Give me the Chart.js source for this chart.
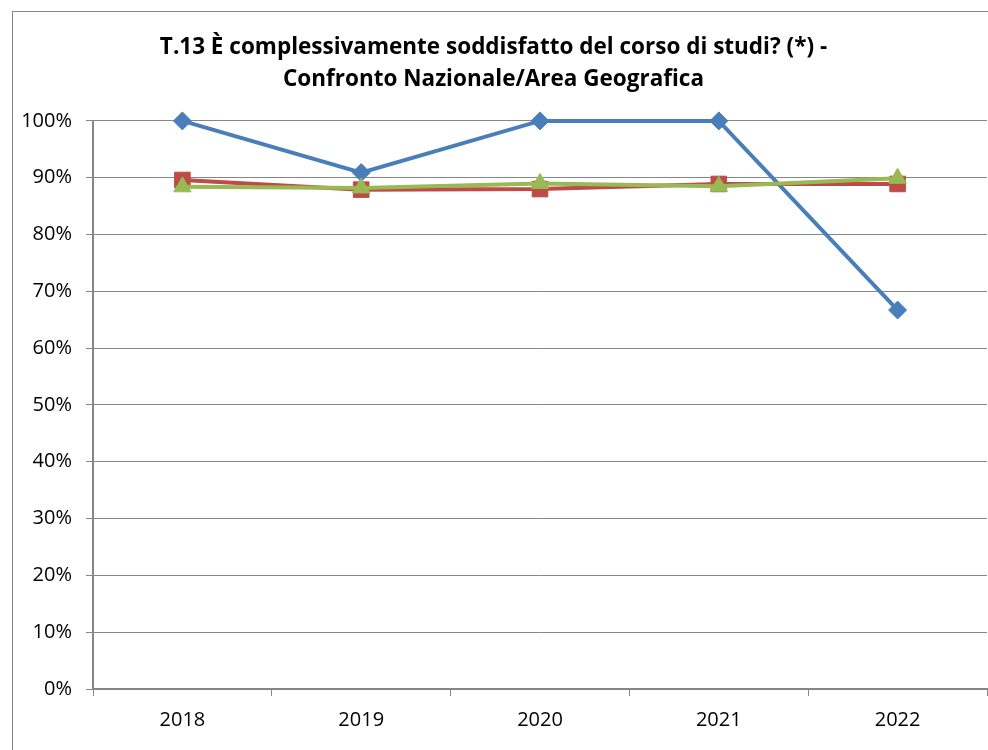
<!DOCTYPE html>
<html>
<head>
<meta charset="utf-8">
<script src="https://cdn.jsdelivr.net/npm/chart.js@4/dist/chart.umd.min.js"></script>
<style>
    html, body { margin: 0; background: #fff; overflow: hidden; width: 988px; height: 750px; }
    #cornice { position: absolute; left: 12px; top: 11px; width: 990px; height: 760px; border: 1px solid #878787; }
    #graficoT13 { position: absolute; left: 0; top: 0; }
</style>
</head>
<body>
<div id="cornice"></div>
<canvas id="graficoT13" width="988" height="750"></canvas>
<script>
// dati
const anni = ['2018', '2019', '2020', '2021', '2022'];
const corsoDiStudi = [100, 90.9, 100, 100, 66.7];
const areaGeografica = [89.6, 87.9, 88.0, 88.9, 88.9];
const nazionale = [88.4, 88.2, 89.0, 88.5, 89.9];
const titolo = ['T.13 È complessivamente soddisfatto del corso di studi? (*) -', 'Confronto Nazionale/Area Geografica'];

const grigio = '#868686';
const font = "'Open Sans', sans-serif";

new Chart(document.getElementById('graficoT13').getContext('2d'), {
    type: 'line',
    data: {
        labels: anni,
        datasets: [
            {
                label: 'Corso di studi',
                data: corsoDiStudi,
                borderColor: '#4A7EBB',
                backgroundColor: '#4A7EBB',
                borderWidth: 4,
                pointStyle: 'rectRot',
                pointRadius: 9,
                pointBorderWidth: 1,
                clip: false,
                order: 3
            },
            {
                label: 'Area geografica',
                data: areaGeografica,
                borderColor: '#BE4B48',
                backgroundColor: '#BE4B48',
                borderWidth: 4,
                pointStyle: 'rect',
                pointRadius: 11,
                pointBorderWidth: 1,
                clip: false,
                order: 2
            },
            {
                label: 'Nazionale',
                data: nazionale,
                borderColor: '#98B954',
                backgroundColor: '#98B954',
                borderWidth: 4,
                pointStyle: 'triangle',
                pointRadius: 10,
                pointBorderWidth: 1,
                clip: false,
                order: 1
            }
        ]
    },
    options: {
        responsive: false,
        animation: false,
        layout: { autoPadding: false, padding: { top: 0, right: 1, left: 0, bottom: 0 } },
        elements: { line: { tension: 0 } },
        scales: {
            x: {
                offset: true,
                grid: { offset: true, drawOnChartArea: false, drawTicks: true, tickLength: 7, color: grigio },
                border: { color: grigio, width: 2 },
                ticks: { color: '#000', padding: 12, font: { family: font, size: 20 } },
                afterFit: (scala) => { scala.height = 61; }
            },
            y: {
                min: 0,
                max: 100,
                grid: { color: grigio, lineWidth: 1, tickLength: 7 },
                border: { color: grigio, width: 2 },
                ticks: {
                    stepSize: 10,
                    color: '#000',
                    padding: 14,
                    font: { family: font, size: 20 },
                    callback: (valore) => valore + '%'
                },
                afterFit: (scala) => { scala.width = 93; }
            }
        },
        plugins: {
            legend: { display: false },
            tooltip: { enabled: false },
            title: {
                display: true,
                text: titolo,
                color: '#000',
                font: { family: font, size: 22.5, weight: 'bold', lineHeight: 1.42 },
                padding: { top: 32, bottom: 25 }
            }
        }
    }
});
</script>
</body>
</html>
